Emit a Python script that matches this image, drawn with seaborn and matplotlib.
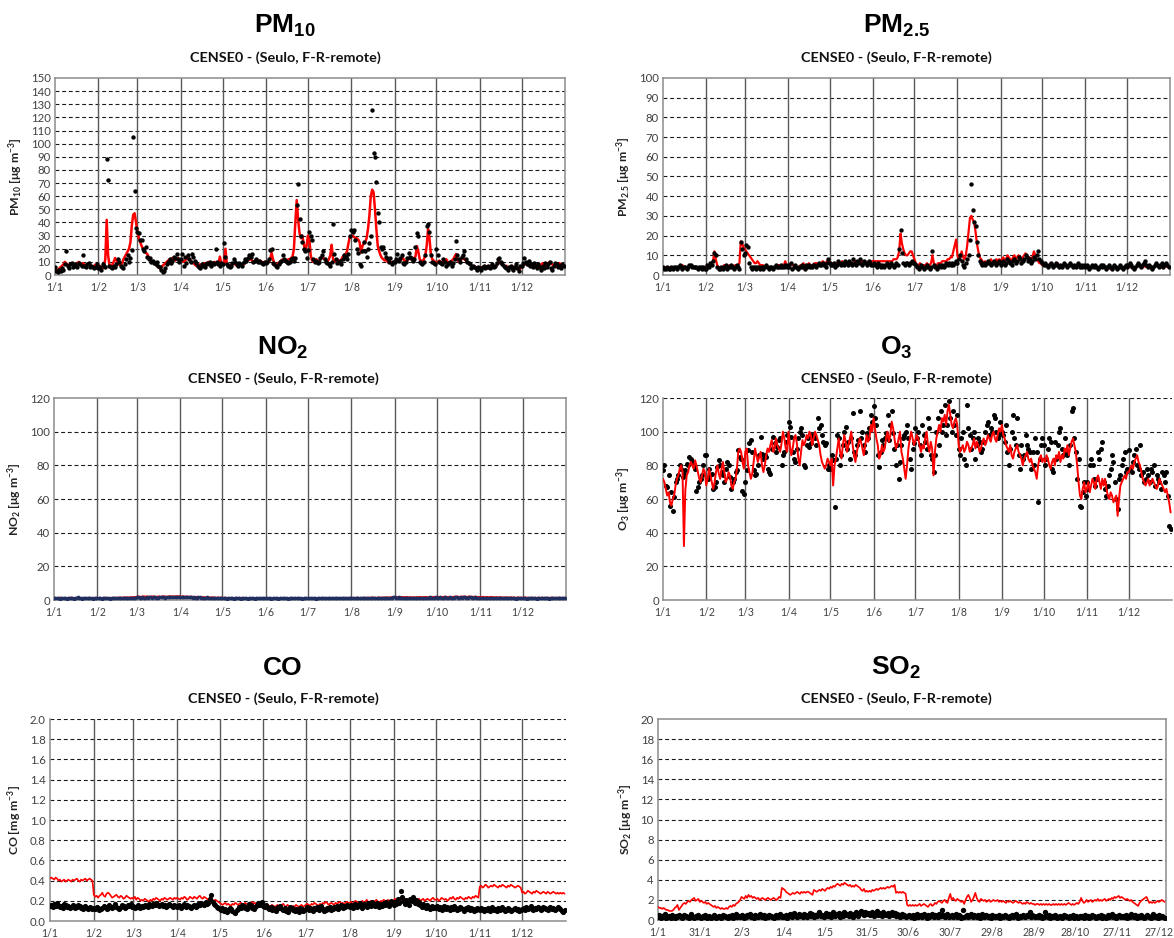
import matplotlib
matplotlib.use("Agg")
import matplotlib.pyplot as plt
import pandas as pd
import seaborn as sns

# ---------------------------------------------------------------- axes labels
MONTH_START = [0, 31, 59, 90, 120, 151, 181, 212, 243, 273, 304, 334]
MONTH_LABELS = ["1/1", "1/2", "1/3", "1/4", "1/5", "1/6", "1/7", "1/8",
                "1/9", "1/10", "1/11", "1/12"]
SO2_TICK_DAYS = [0, 30, 60, 90, 120, 150, 180, 210, 240, 270, 300, 330, 360]
SO2_TICK_LABELS = ["1/1", "31/1", "2/3", "1/4", "1/5", "31/5", "30/6", "30/7",
                   "29/8", "28/9", "28/10", "27/11", "27/12"]
STATION = "CENSE0 - (Seulo, F-R-remote)"

# ---------------------------------------------------------------- daily data, one list per month
PM10_OBS = [
    [6, 3, 2, 4, 3, 5, 4, 8, 18, 7, 5, 8, 9, 6, 8, 7, 6, 9, 8, 7, 15, 7, 6, 8, 9, 6, 7, 6, 5, 6, 8],
    [5, 6, 4, 8, 7, 6, 88, 72, 7, 6, 5, 7, 6, 8, 12, 10, 7, 6, 5, 8, 12, 15, 10, 13, 19, 105, 64, 36],
    [33, 32, 27, 27, 20, 18, 21, 14, 12, 13, 10, 11, 9, 8, 10, 7, 6, 4, 2, 3, 5, 8, 10, 12, 9, 11, 14, 13, 16, 12, 10],
    [12, 16, 7, 14, 9, 15, 12, 10, 16, 14, 11, 9, 7, 6, 5, 8, 7, 6, 8, 9, 8, 10, 7, 9, 8, 20, 10, 8, 7, 9],
    [8, 24, 14, 8, 7, 6, 7, 9, 12, 10, 8, 7, 9, 8, 7, 10, 12, 11, 13, 15, 14, 16, 10, 11, 12, 10, 11, 10, 9, 8, 10],
    [9, 10, 12, 19, 20, 9, 8, 7, 6, 8, 10, 11, 15, 12, 11, 10, 9, 10, 12, 13, 11, 13, 53, 69, 43, 30, 25, 20, 18, 13],
    [19, 33, 30, 27, 12, 10, 11, 9, 10, 13, 15, 18, 12, 10, 9, 8, 7, 10, 39, 16, 12, 9, 10, 11, 8, 12, 15, 14, 12, 16, 30],
    [34, 33, 34, 27, 20, 17, 8, 7, 18, 25, 18, 14, 20, 24, 30, 126, 93, 90, 71, 47, 40, 21, 20, 21, 17, 14, 12, 10, 13, 8, 10],
    [10, 12, 16, 11, 13, 15, 9, 8, 10, 13, 17, 14, 13, 11, 12, 21, 32, 30, 10, 9, 8, 10, 15, 37, 39, 33, 15, 10, 9, 8],
    [20, 15, 10, 9, 8, 12, 10, 7, 8, 9, 10, 7, 9, 12, 26, 15, 12, 10, 14, 15, 18, 12, 10, 9, 8, 5, 7, 6, 5, 4, 6],
    [5, 4, 6, 7, 5, 6, 7, 5, 6, 8, 6, 7, 9, 12, 13, 10, 8, 7, 6, 5, 4, 6, 7, 5, 4, 6, 8, 5, 3, 7],
    [7, 9, 13, 10, 8, 11, 7, 8, 6, 9, 7, 5, 8, 6, 4, 7, 5, 9, 6, 8, 10, 5, 4, 7, 9, 8, 6, 7, 5, 8, 7],
]
PM10_MOD = [
    [5, 4, 3, 5, 6, 7, 8, 10, 9, 8, 7, 8, 9, 8, 7, 8, 9, 10, 9, 8, 9, 8, 7, 8, 9, 8, 7, 6, 7, 8, 7],
    [6, 7, 6, 5, 7, 12, 42, 15, 7, 6, 8, 10, 13, 11, 9, 8, 7, 9, 12, 14, 16, 18, 20, 25, 38, 46, 47, 40],
    [33, 28, 25, 22, 20, 18, 17, 16, 14, 12, 11, 10, 9, 8, 7, 6, 5, 6, 7, 8, 9, 10, 11, 12, 12, 13, 12, 11, 12, 13, 12],
    [12, 11, 10, 11, 12, 13, 12, 11, 10, 9, 8, 7, 7, 8, 8, 7, 8, 9, 8, 9, 10, 9, 8, 9, 10, 9, 8, 9, 14, 9],
    [8, 9, 20, 8, 7, 7, 8, 8, 9, 8, 7, 8, 9, 8, 7, 8, 9, 10, 11, 12, 12, 11, 10, 11, 12, 11, 10, 11, 10, 9, 10],
    [10, 9, 10, 12, 17, 12, 9, 8, 8, 9, 10, 11, 12, 11, 12, 11, 12, 12, 13, 14, 20, 40, 57, 42, 32, 28, 30, 24, 18, 22],
    [30, 28, 15, 11, 10, 11, 12, 10, 11, 12, 14, 13, 12, 11, 10, 12, 15, 23, 12, 10, 11, 12, 11, 10, 12, 14, 15, 16, 18, 24, 29],
    [29, 30, 29, 28, 28, 27, 25, 17, 22, 24, 25, 28, 35, 45, 60, 65, 63, 50, 35, 22, 18, 15, 13, 12, 11, 12, 10, 11, 10, 9, 10],
    [10, 11, 12, 10, 11, 12, 13, 11, 10, 11, 12, 13, 12, 11, 13, 14, 22, 18, 12, 11, 10, 12, 15, 22, 35, 28, 16, 12, 11, 10],
    [9, 10, 11, 10, 9, 10, 11, 12, 10, 9, 10, 11, 12, 14, 16, 12, 10, 11, 12, 13, 12, 11, 10, 9, 8, 7, 6, 7, 6, 5, 6],
    [5, 6, 5, 6, 7, 6, 5, 6, 7, 8, 7, 6, 7, 9, 10, 9, 8, 7, 6, 7, 6, 5, 6, 7, 6, 5, 6, 5, 4, 5],
    [6, 7, 8, 9, 8, 7, 8, 7, 6, 7, 8, 7, 6, 7, 8, 9, 8, 7, 8, 9, 10, 9, 8, 7, 6, 7, 8, 9, 8, 7, 8],
]

PM25_OBS = [
    [4, 3, 3, 4, 3, 3, 4, 3, 4, 4, 3, 4, 5, 4, 3, 4, 4, 3, 4, 5, 5, 4, 4, 4, 4, 3, 4, 4, 3, 4, 3],
    [3, 5, 4, 6, 5, 7, 11, 10, 4, 3, 3, 4, 3, 4, 5, 3, 4, 4, 5, 4, 3, 4, 5, 4, 3, 17, 13, 10],
    [11, 15, 14, 6, 4, 3, 4, 4, 3, 4, 4, 3, 4, 3, 4, 5, 4, 3, 4, 4, 3, 4, 5, 4, 4, 4, 5, 4, 4, 5, 4],
    [5, 4, 6, 3, 4, 5, 4, 3, 4, 4, 5, 4, 3, 5, 4, 5, 4, 4, 5, 5, 4, 5, 6, 5, 5, 6, 5, 4, 6, 8],
    [6, 5, 5, 6, 4, 5, 7, 6, 5, 6, 5, 7, 6, 5, 7, 6, 5, 8, 6, 5, 7, 6, 8, 5, 6, 7, 6, 5, 7, 6, 5],
    [5, 6, 5, 4, 6, 5, 4, 5, 4, 5, 6, 5, 4, 6, 5, 4, 5, 6, 5, 13, 23, 11, 6, 5, 6, 6, 5, 6, 7, 6],
    [6, 5, 4, 3, 4, 5, 4, 3, 4, 5, 4, 3, 4, 12, 5, 4, 3, 4, 5, 4, 5, 4, 5, 6, 5, 6, 5, 6, 5, 6, 7],
    [6, 8, 10, 7, 5, 4, 6, 8, 10, 18, 46, 33, 27, 25, 17, 10, 7, 6, 5, 6, 5, 6, 7, 6, 5, 6, 7, 6, 5, 6, 7],
    [5, 6, 7, 5, 6, 8, 7, 6, 5, 7, 8, 6, 7, 9, 8, 6, 7, 8, 10, 9, 7, 8, 6, 7, 9, 8, 10, 12, 8, 7],
    [6, 5, 6, 5, 4, 5, 6, 5, 4, 5, 6, 5, 4, 5, 4, 5, 6, 5, 4, 5, 6, 5, 4, 5, 4, 5, 6, 4, 5, 4, 5],
    [4, 5, 4, 3, 4, 5, 4, 5, 4, 3, 4, 5, 4, 5, 4, 3, 4, 5, 4, 3, 4, 5, 4, 3, 4, 5, 4, 3, 4, 5],
    [4, 5, 6, 5, 4, 3, 4, 5, 6, 5, 4, 5, 6, 7, 5, 4, 5, 4, 3, 4, 5, 6, 5, 4, 5, 6, 4, 5, 6, 5, 4],
]
PM25_MOD = [
    [4, 4, 4, 4, 4, 4, 4, 4, 4, 4, 4, 4, 4, 5, 5, 4, 4, 4, 4, 4, 4, 4, 4, 4, 4, 4, 4, 4, 4, 4, 4],
    [4, 5, 5, 5, 6, 7, 12, 8, 5, 4, 4, 4, 4, 5, 5, 5, 4, 5, 5, 5, 4, 5, 5, 5, 6, 17, 16, 14],
    [13, 12, 11, 10, 9, 8, 7, 6, 6, 7, 6, 5, 5, 5, 4, 4, 4, 4, 4, 4, 4, 4, 4, 4, 5, 5, 4, 5, 5, 7, 5],
    [5, 5, 6, 5, 5, 5, 4, 4, 4, 5, 5, 6, 5, 5, 5, 6, 5, 5, 5, 6, 6, 6, 5, 6, 6, 7, 6, 6, 7, 7],
    [6, 6, 6, 5, 6, 6, 6, 6, 6, 7, 6, 6, 6, 5, 6, 6, 6, 6, 7, 7, 7, 6, 6, 7, 7, 7, 6, 6, 7, 7, 7],
    [7, 7, 7, 7, 7, 7, 7, 7, 7, 7, 7, 7, 7, 7, 7, 8, 8, 8, 9, 12, 21, 16, 13, 11, 10, 10, 11, 12, 12, 10],
    [8, 6, 5, 5, 6, 5, 5, 5, 5, 6, 5, 5, 6, 10, 6, 5, 5, 6, 6, 6, 7, 7, 7, 7, 8, 8, 9, 9, 12, 15, 18],
    [10, 8, 9, 12, 9, 8, 10, 15, 22, 29, 30, 28, 27, 22, 16, 12, 9, 8, 7, 6, 7, 6, 7, 7, 8, 7, 6, 7, 8, 7, 8],
    [7, 8, 9, 7, 8, 10, 9, 8, 7, 9, 10, 8, 9, 10, 9, 8, 9, 10, 11, 9, 8, 9, 8, 9, 12, 10, 8, 7, 6, 6],
    [5, 5, 6, 5, 5, 5, 6, 5, 5, 5, 5, 6, 5, 5, 5, 5, 5, 5, 5, 5, 5, 5, 5, 5, 4, 5, 5, 5, 4, 5, 4],
    [4, 4, 5, 4, 4, 4, 4, 5, 4, 4, 4, 4, 4, 5, 4, 4, 4, 4, 3, 4, 4, 4, 4, 4, 3, 4, 4, 4, 4, 4],
    [4, 4, 4, 5, 4, 4, 4, 4, 5, 5, 4, 4, 4, 5, 4, 4, 4, 4, 4, 4, 4, 5, 5, 4, 4, 4, 4, 5, 5, 4, 4],
]

NO2_OBS = [
    [1.4, 1.1, 0.9, 1.0, 0.8, 1.2, 1.0, 0.9, 1.1, 0.8, 0.9, 1.0, 1.2, 0.9, 0.8, 1.1, 1.0, 1.5, 1.1, 0.9, 0.8, 1.0, 1.1, 0.9, 1.0, 1.2, 0.9, 1.0, 0.8, 1.1, 0.9],
    [1.0, 0.9, 1.1, 0.8, 1.0, 1.2, 0.9, 1.0, 1.1, 0.8, 0.9, 1.0, 1.1, 0.9, 1.0, 1.2, 1.1, 0.9, 1.0, 1.1, 1.3, 1.2, 1.0, 1.1, 1.3, 1.2, 1.4, 1.3],
    [1.5, 1.6, 1.4, 1.3, 1.5, 1.2, 1.4, 1.6, 1.3, 1.5, 1.7, 1.4, 1.6, 1.5, 1.3, 1.4, 1.6, 1.5, 1.8, 1.6, 1.4, 1.5, 1.7, 1.6, 1.8, 1.9, 1.7, 1.6, 1.8, 2.0, 1.7],
    [1.8, 1.6, 1.7, 1.5, 1.6, 1.9, 1.7, 1.5, 1.6, 1.4, 1.5, 1.3, 1.4, 1.6, 1.5, 1.3, 1.2, 1.4, 1.3, 1.5, 1.2, 1.1, 1.3, 1.2, 1.0, 1.1, 1.2, 0.9, 1.0, 1.1],
    [1.0, 0.9, 1.1, 0.8, 1.0, 0.9, 1.1, 1.0, 0.8, 0.9, 1.0, 1.2, 0.9, 0.8, 1.0, 1.1, 0.9, 1.0, 0.8, 0.9, 1.1, 1.0, 0.9, 0.8, 1.0, 1.1, 0.9, 1.0, 1.2, 0.9, 1.0],
    [0.9, 1.0, 1.1, 0.9, 0.8, 1.0, 1.2, 0.9, 1.0, 0.8, 0.9, 1.1, 1.0, 0.9, 1.2, 1.0, 0.8, 0.9, 1.1, 1.0, 0.9, 1.3, 1.0, 0.9, 1.1, 1.0, 0.8, 0.9, 1.0, 1.1],
    [1.0, 0.9, 1.1, 1.2, 0.9, 1.0, 0.8, 1.1, 1.0, 0.9, 1.2, 1.0, 1.1, 0.9, 1.0, 1.3, 1.1, 1.0, 0.9, 1.1, 1.2, 1.0, 0.9, 1.1, 1.0, 1.2, 0.9, 1.0, 1.1, 1.0, 0.9],
    [1.1, 1.0, 1.2, 0.9, 1.0, 1.1, 1.3, 1.0, 0.9, 1.1, 1.2, 1.0, 1.1, 0.9, 1.0, 1.2, 1.1, 1.0, 0.9, 1.1, 1.3, 1.2, 1.0, 1.1, 1.2, 1.4, 1.1, 1.0, 1.2, 1.3, 1.5],
    [1.6, 1.4, 1.3, 1.5, 1.2, 1.4, 1.3, 1.1, 1.2, 1.4, 1.3, 1.2, 1.1, 1.3, 1.2, 1.0, 1.1, 1.3, 1.2, 1.4, 1.3, 1.1, 1.2, 1.4, 1.3, 1.5, 1.4, 1.2, 1.3, 1.5],
    [1.4, 1.3, 1.5, 1.2, 1.4, 1.3, 1.6, 1.4, 1.3, 1.5, 1.4, 1.2, 1.3, 1.5, 1.6, 1.4, 1.3, 1.5, 1.4, 1.6, 1.5, 1.3, 1.4, 1.6, 1.5, 1.4, 1.3, 1.5, 1.4, 1.3, 1.2],
    [1.3, 1.2, 1.4, 1.1, 1.3, 1.2, 1.0, 1.1, 1.3, 1.2, 1.1, 1.0, 1.2, 1.1, 1.3, 1.0, 0.9, 1.1, 1.0, 1.2, 0.9, 1.0, 1.1, 0.9, 1.0, 0.8, 1.0, 0.9, 1.1, 1.0],
    [0.9, 1.0, 1.1, 0.8, 1.0, 0.9, 1.1, 1.2, 0.9, 1.0, 0.8, 1.1, 1.0, 0.9, 1.2, 1.0, 0.9, 1.1, 1.0, 0.8, 1.0, 1.2, 0.9, 1.1, 1.0, 0.9, 1.3, 1.0, 1.1, 1.2, 1.4],
]
NO2_MOD = [
    [1.3, 1.4, 1.2, 1.3, 1.5, 1.4, 1.3, 1.2, 1.4, 1.3, 1.2, 1.3, 1.5, 1.4, 1.3, 1.2, 1.3, 1.6, 1.4, 1.3, 1.2, 1.3, 1.4, 1.3, 1.2, 1.4, 1.3, 1.2, 1.3, 1.4, 1.3],
    [1.2, 1.3, 1.4, 1.2, 1.3, 1.5, 1.3, 1.4, 1.2, 1.3, 1.4, 1.3, 1.5, 1.4, 1.3, 1.5, 1.6, 1.4, 1.5, 1.6, 1.7, 1.6, 1.5, 1.7, 1.8, 1.7, 1.9, 1.8],
    [2.0, 2.2, 2.1, 1.9, 2.1, 2.3, 2.0, 2.2, 2.1, 2.0, 2.2, 2.1, 2.3, 2.0, 1.9, 2.1, 2.2, 2.0, 2.1, 2.3, 2.2, 2.0, 2.1, 2.2, 2.4, 2.2, 2.1, 2.3, 2.2, 2.4, 2.3],
    [2.2, 2.1, 2.3, 2.0, 2.1, 2.2, 2.0, 1.9, 2.1, 2.0, 1.8, 1.9, 2.0, 1.8, 1.7, 1.9, 1.8, 1.7, 1.6, 1.8, 1.7, 1.6, 1.5, 1.7, 1.6, 1.5, 1.4, 1.6, 1.5, 1.4],
    [1.4, 1.3, 1.5, 1.3, 1.4, 1.2, 1.3, 1.4, 1.2, 1.3, 1.4, 1.3, 1.2, 1.3, 1.4, 1.2, 1.3, 1.1, 1.2, 1.3, 1.2, 1.1, 1.3, 1.2, 1.1, 1.2, 1.3, 1.2, 1.1, 1.2, 1.3],
    [1.2, 1.1, 1.3, 1.2, 1.1, 1.2, 1.3, 1.1, 1.2, 1.0, 1.1, 1.2, 1.3, 1.1, 1.2, 1.1, 1.0, 1.2, 1.1, 1.3, 1.2, 1.1, 1.2, 1.0, 1.1, 1.2, 1.1, 1.0, 1.2, 1.1],
    [1.2, 1.1, 1.3, 1.2, 1.1, 1.2, 1.3, 1.2, 1.1, 1.3, 1.2, 1.4, 1.2, 1.1, 1.3, 1.2, 1.1, 1.2, 1.3, 1.2, 1.4, 1.3, 1.2, 1.1, 1.3, 1.2, 1.4, 1.3, 1.2, 1.3, 1.4],
    [1.3, 1.4, 1.2, 1.3, 1.5, 1.4, 1.3, 1.2, 1.4, 1.5, 1.3, 1.4, 1.5, 1.3, 1.4, 1.6, 1.5, 1.4, 1.3, 1.5, 1.6, 1.4, 1.5, 1.6, 1.5, 1.7, 1.6, 1.5, 1.7, 1.8, 1.9],
    [2.0, 1.9, 1.8, 2.0, 1.7, 1.9, 1.8, 1.7, 1.9, 1.8, 1.7, 1.8, 1.6, 1.8, 1.7, 1.6, 1.8, 1.7, 1.9, 1.8, 1.7, 1.8, 1.9, 1.7, 1.8, 2.0, 1.9, 1.8, 1.9, 2.0],
    [1.9, 1.8, 2.0, 1.9, 1.8, 2.0, 2.1, 1.9, 1.8, 2.0, 1.9, 1.8, 2.0, 2.1, 2.2, 2.0, 1.9, 2.1, 2.0, 2.2, 2.1, 1.9, 2.0, 2.2, 2.1, 2.0, 1.9, 2.1, 2.0, 1.9, 1.8],
    [1.9, 1.8, 2.0, 1.7, 1.8, 1.9, 1.7, 1.8, 1.9, 1.7, 1.6, 1.8, 1.7, 1.6, 1.8, 1.7, 1.5, 1.6, 1.7, 1.6, 1.5, 1.6, 1.7, 1.5, 1.6, 1.4, 1.5, 1.6, 1.5, 1.4],
    [1.5, 1.4, 1.6, 1.4, 1.5, 1.3, 1.4, 1.5, 1.3, 1.4, 1.3, 1.5, 1.4, 1.3, 1.5, 1.4, 1.3, 1.4, 1.5, 1.3, 1.4, 1.5, 1.3, 1.4, 1.3, 1.4, 1.5, 1.4, 1.3, 1.4, 1.5],
]

O3_OBS = [
    [77, 80, 68, 67, 74, 56, 64, 53, 61, 70, 72, 74, 80, 78, 73, 75, 77, 81, 80, 85, 84, 82, 80, 78, 65, 67, 70, 72, 74, 80, 86],
    [86, 72, 78, 74, 75, 66, 67, 70, 79, 83, 80, 76, 74, 70, 78, 82, 80, 73, 66, 70, 72, 76, 77, 89, 85, 84, 65, 63],
    [70, 77, 89, 93, 95, 88, 77, 74, 75, 80, 86, 97, 87, 84, 86, 85, 78, 76, 75, 90, 97, 93, 88, 91, 95, 96, 80, 86, 88, 94, 98],
    [106, 103, 97, 88, 84, 82, 90, 96, 100, 102, 98, 80, 79, 92, 96, 91, 93, 98, 97, 96, 92, 108, 102, 104, 98, 94, 92, 93, 78, 80],
    [78, 86, 83, 55, 84, 98, 96, 80, 86, 92, 100, 103, 90, 94, 84, 96, 111, 88, 86, 92, 95, 112, 96, 100, 92, 88, 99, 96, 102, 110, 106],
    [115, 108, 104, 86, 79, 88, 95, 92, 96, 99, 110, 95, 104, 112, 99, 90, 80, 92, 72, 82, 92, 96, 98, 100, 104, 96, 84, 78, 90, 93],
    [102, 96, 100, 92, 86, 104, 98, 94, 90, 108, 102, 86, 84, 76, 86, 100, 108, 92, 112, 100, 104, 116, 98, 104, 118, 108, 100, 112, 104, 98, 110],
    [90, 86, 96, 100, 84, 80, 116, 102, 98, 90, 96, 100, 84, 92, 96, 94, 88, 90, 94, 100, 104, 106, 98, 102, 100, 110, 108, 100, 96, 98, 106],
    [100, 98, 94, 104, 88, 80, 90, 100, 110, 96, 92, 108, 86, 78, 92, 84, 86, 98, 92, 90, 88, 78, 88, 80, 96, 88, 58, 84, 92, 96],
    [92, 80, 84, 90, 96, 94, 78, 76, 94, 84, 92, 100, 102, 90, 86, 96, 88, 86, 80, 92, 112, 114, 96, 88, 72, 84, 56, 55, 64, 70, 62],
    [70, 66, 80, 84, 80, 72, 68, 72, 88, 84, 90, 94, 70, 66, 62, 68, 74, 78, 86, 82, 70, 60, 54, 72, 74, 80, 84, 88, 76, 78],
    [89, 78, 76, 82, 86, 90, 80, 78, 92, 74, 76, 70, 72, 78, 74, 70, 78, 76, 80, 68, 74, 72, 70, 66, 76, 74, 70, 76, 62, 44, 42],
]
O3_MOD = [
    [72, 70, 66, 62, 64, 58, 56, 60, 62, 68, 72, 74, 78, 80, 76, 32, 65, 74, 76, 80, 82, 80, 78, 83, 80, 76, 72, 70, 74, 78, 76],
    [68, 72, 78, 74, 70, 66, 70, 76, 80, 75, 72, 78, 82, 76, 70, 72, 76, 74, 68, 66, 70, 72, 78, 88, 90, 88, 82, 78],
    [88, 90, 80, 76, 72, 75, 82, 90, 86, 82, 85, 88, 80, 76, 80, 86, 90, 88, 92, 95, 88, 90, 96, 92, 90, 88, 93, 100, 96, 90, 88],
    [100, 92, 86, 90, 96, 98, 93, 84, 80, 88, 95, 92, 94, 98, 96, 100, 98, 92, 96, 100, 98, 95, 92, 86, 82, 80, 78, 80, 84, 82],
    [80, 84, 68, 80, 84, 90, 96, 88, 84, 92, 98, 94, 88, 92, 96, 100, 92, 86, 82, 88, 92, 96, 94, 90, 86, 92, 98, 94, 96, 104, 100],
    [108, 102, 96, 92, 84, 86, 92, 88, 90, 96, 100, 94, 98, 106, 102, 96, 90, 92, 96, 100, 88, 84, 78, 72, 80, 90, 96, 100, 96, 92],
    [95, 98, 96, 92, 88, 92, 90, 96, 100, 92, 88, 94, 90, 74, 88, 96, 100, 104, 100, 108, 106, 110, 104, 112, 116, 110, 104, 102, 106, 108, 104],
    [92, 88, 90, 92, 88, 90, 94, 92, 88, 90, 92, 96, 90, 94, 92, 88, 90, 94, 96, 92, 94, 98, 96, 94, 98, 100, 96, 94, 98, 102, 100],
    [104, 98, 96, 92, 90, 88, 92, 86, 84, 88, 90, 92, 88, 86, 84, 80, 84, 86, 88, 84, 82, 84, 80, 78, 76, 72, 80, 84, 86, 82],
    [84, 82, 86, 84, 80, 78, 82, 84, 80, 86, 84, 88, 82, 86, 84, 90, 88, 92, 86, 90, 94, 96, 92, 88, 80, 70, 62, 60, 66, 70, 64],
    [66, 70, 64, 68, 72, 70, 66, 72, 74, 70, 66, 72, 68, 72, 66, 62, 60, 64, 62, 58, 60, 62, 50, 60, 68, 70, 72, 74, 72, 76],
    [76, 78, 80, 78, 82, 84, 86, 82, 80, 76, 72, 70, 68, 70, 72, 68, 70, 72, 70, 68, 66, 68, 72, 70, 68, 66, 64, 66, 62, 58, 52],
]

CO_OBS = [
    [.15, .16, .14, .17, .15, .18, .16, .14, .15, .13, .17, .16, .14, .15, .13, .14, .16, .15, .13, .14, .16, .15, .13, .12, .14, .15, .13, .12, .14, .13, .12],
    [.13, .12, .14, .13, .11, .12, .13, .15, .14, .12, .13, .16, .14, .13, .15, .17, .14, .13, .12, .14, .16, .15, .13, .14, .16, .15, .17, .14],
    [.15, .13, .14, .16, .14, .13, .15, .14, .16, .15, .14, .17, .16, .15, .17, .16, .18, .17, .15, .16, .17, .15, .16, .14, .15, .17, .16, .15, .14, .16, .15],
    [.14, .16, .15, .13, .15, .17, .14, .16, .15, .14, .13, .15, .16, .14, .15, .17, .16, .18, .17, .16, .19, .17, .18, .22, .26, .19, .17, .16, .14, .13],
    [.12, .11, .13, .10, .12, .09, .11, .13, .12, .10, .09, .08, .11, .12, .14, .13, .16, .15, .13, .12, .14, .17, .16, .13, .12, .14, .15, .18, .16, .17, .19],
    [.15, .14, .16, .13, .12, .14, .11, .13, .12, .10, .14, .13, .15, .12, .11, .13, .10, .09, .12, .14, .13, .11, .10, .12, .11, .09, .13, .12, .10, .11],
    [.12, .14, .11, .13, .12, .10, .13, .12, .14, .11, .13, .15, .12, .10, .11, .13, .12, .14, .11, .12, .14, .13, .15, .12, .14, .16, .13, .15, .14, .16, .15],
    [.14, .16, .13, .15, .17, .14, .16, .18, .15, .13, .17, .16, .14, .18, .16, .15, .19, .17, .15, .18, .16, .14, .17, .15, .18, .16, .19, .17, .15, .20, .18],
    [.16, .19, .17, .22, .18, .30, .24, .20, .17, .21, .19, .16, .22, .20, .24, .18, .21, .17, .19, .16, .14, .17, .15, .13, .16, .14, .12, .15, .13, .14],
    [.13, .15, .12, .14, .11, .13, .15, .12, .14, .13, .11, .14, .12, .15, .13, .11, .12, .14, .13, .12, .10, .13, .12, .14, .11, .13, .12, .10, .11, .13, .12],
    [.11, .13, .12, .10, .12, .11, .13, .10, .12, .14, .11, .12, .10, .13, .11, .12, .14, .12, .10, .11, .13, .12, .10, .11, .12, .13, .11, .12, .10, .11],
    [.12, .13, .11, .14, .12, .13, .15, .12, .11, .13, .12, .14, .13, .11, .12, .14, .13, .12, .11, .13, .14, .12, .13, .11, .12, .14, .13, .12, .10, .09, .11],
]
CO_MOD = [
    [.42, .43, .42, .41, .43, .42, .40, .41, .39, .40, .41, .39, .40, .41, .40, .39, .41, .40, .41, .42, .40, .39, .41, .40, .41, .42, .40, .41, .42, .41, .40],
    [.26, .24, .25, .23, .25, .26, .28, .25, .24, .27, .28, .27, .25, .23, .24, .25, .26, .24, .23, .25, .24, .22, .23, .25, .24, .23, .22, .23],
    [.22, .24, .21, .23, .22, .20, .21, .20, .22, .21, .20, .19, .21, .20, .22, .21, .23, .22, .21, .20, .22, .21, .23, .22, .21, .22, .23, .22, .21, .23, .22],
    [.23, .22, .21, .23, .22, .24, .23, .21, .22, .24, .23, .22, .24, .23, .22, .24, .25, .23, .22, .24, .23, .22, .21, .23, .22, .21, .20, .21, .20, .19],
    [.18, .17, .16, .17, .18, .16, .17, .16, .15, .17, .16, .18, .17, .16, .17, .18, .17, .16, .18, .17, .16, .17, .18, .19, .17, .18, .16, .17, .16, .15, .16],
    [.16, .15, .17, .16, .15, .14, .16, .15, .14, .15, .16, .14, .15, .16, .17, .15, .14, .16, .15, .14, .13, .15, .14, .16, .15, .14, .15, .16, .14, .15],
    [.16, .17, .16, .15, .17, .16, .18, .17, .16, .15, .17, .16, .18, .17, .19, .18, .16, .17, .18, .17, .16, .18, .17, .18, .19, .17, .18, .17, .18, .19, .18],
    [.18, .19, .17, .18, .20, .19, .18, .17, .19, .20, .18, .19, .21, .19, .18, .20, .19, .18, .20, .21, .19, .18, .20, .19, .21, .20, .19, .21, .20, .19, .20],
    [.20, .22, .21, .20, .19, .23, .21, .20, .22, .21, .20, .19, .21, .20, .22, .21, .20, .21, .22, .20, .21, .22, .20, .21, .22, .21, .20, .22, .23, .21],
    [.21, .22, .20, .21, .23, .22, .21, .22, .20, .21, .23, .22, .24, .22, .21, .23, .22, .24, .23, .22, .21, .23, .22, .24, .23, .22, .24, .23, .25, .24, .23],
    [.34, .35, .33, .34, .36, .35, .33, .34, .35, .34, .36, .35, .34, .33, .35, .34, .36, .35, .34, .33, .35, .34, .36, .35, .34, .33, .34, .35, .34, .33],
    [.28, .29, .27, .28, .30, .29, .28, .27, .29, .28, .30, .29, .28, .27, .28, .29, .28, .27, .29, .28, .27, .28, .29, .28, .27, .28, .27, .28, .27, .28, .27],
]

SO2_OBS = [
    [.3, .5, .2, .4, .3, .6, .2, .3, .4, .2, .5, .3, .2, .4, .3, .5, .4, .2, .3, .5, .4, .3, .2, .4, .6, .3, .2, .4, .3, .5, .3],
    [.2, .4, .3, .5, .2, .3, .4, .2, .3, .5, .4, .2, .3, .4, .2, .3, .5, .4, .3, .2, .4, .3, .5, .2, .4, .6, .3, .4],
    [.3, .5, .4, .2, .3, .5, .4, .6, .3, .4, .2, .5, .4, .3, .6, .4, .3, .5, .2, .4, .3, .5, .4, .3, .2, .4, .5, .3, .4, .6, .3],
    [.4, .3, .5, .2, .4, .6, .3, .5, .7, .4, .3, .6, .4, .5, .3, .6, .4, .3, .5, .7, .4, .6, .3, .5, .4, .6, .8, .4, .5, .3],
    [.5, .7, .4, .6, .3, .5, .8, .4, .6, .5, .7, .3, .6, .4, .8, .5, .6, .4, .7, .5, .3, .6, .8, .5, .4, .7, .9, .6, .5, .8, .6],
    [.7, .5, .6, .8, .4, .6, .9, .5, .7, .6, .4, .8, .6, .5, .7, .4, .6, .8, .5, .7, .4, .6, .5, .3, .6, .4, .5, .3, .4, .5],
    [.4, .3, .5, .2, .4, .6, .3, .4, .5, .3, .6, .4, .2, .5, .3, .4, .6, .3, .5, .4, .3, .6, .4, 1.0, .5, .3, .4, .6, .3, .4, .5],
    [.3, .4, .6, .3, .5, .4, .2, 1.0, .3, .4, .5, .3, .4, .6, .3, .5, .4, .3, .5, .2, .4, .6, .3, .4, .5, .3, .4, .2, .5, .4, .3],
    [.4, .3, .5, .2, .4, .3, .5, .4, .3, .2, .4, .5, .3, .4, .6, .3, .2, .4, .3, .5, .4, .3, .5, .4, .8, .3, .5, .4, .3, .4],
    [.3, .5, .4, .2, .3, .8, .4, .3, .5, .2, .4, .3, .5, .4, .2, .3, .4, .2, .3, .5, .4, .3, .2, .4, .3, .5, .2, .4, .3, .2, .4],
    [.3, .4, .2, .5, .3, .4, .2, .3, .5, .4, .3, .2, .4, .3, .5, .2, .4, .3, .2, .5, .3, .4, .6, .3, .4, .2, .3, .5, .4, .3],
    [.4, .3, .5, .2, .4, .3, .6, .4, .3, .5, .2, .4, .3, .5, .4, .2, .3, .5, .4, .3, .2, .4, .6, .3, .4, .2, .5, .3, .4, .3, .2],
]
SO2_MOD = [
    [1.3, 1.2, 1.2, 1.1, 1.2, 1.1, 1.0, 1.0, 0.9, 0.9, 0.9, 1.0, 1.2, 1.3, 1.5, 1.0, 1.2, 1.4, 1.6, 1.7, 1.6, 1.8, 1.9, 1.8, 2.0, 2.1, 2.2, 1.9, 2.0, 2.1, 1.8],
    [1.9, 1.8, 1.7, 1.8, 1.6, 1.7, 1.6, 1.5, 1.4, 1.3, 1.4, 1.2, 1.3, 1.2, 1.1, 1.2, 1.1, 1.1, 1.2, 1.1, 1.3, 1.4, 1.3, 1.5, 1.4, 1.6, 1.7, 1.8],
    [2.0, 2.3, 2.2, 2.1, 2.4, 2.2, 2.5, 2.3, 2.4, 2.2, 2.3, 2.2, 2.1, 2.2, 2.0, 2.1, 2.2, 2.1, 2.0, 2.1, 2.2, 2.1, 2.0, 2.1, 2.2, 2.1, 2.0, 2.1, 2.3, 2.2, 3.2],
    [3.1, 3.0, 2.8, 2.7, 2.6, 2.5, 2.6, 2.7, 2.6, 2.7, 2.8, 2.7, 2.6, 2.8, 2.7, 2.8, 2.7, 2.8, 2.8, 2.7, 2.6, 2.5, 3.0, 2.9, 2.8, 2.9, 3.0, 2.9, 3.1, 3.0],
    [2.9, 3.1, 3.2, 3.1, 3.3, 3.2, 3.4, 3.3, 3.5, 3.6, 3.5, 3.4, 3.6, 3.5, 3.7, 3.6, 3.5, 3.4, 3.5, 3.3, 3.4, 3.3, 3.5, 3.4, 3.3, 3.2, 3.0, 2.9, 3.1, 2.8, 2.9],
    [2.8, 2.9, 2.8, 3.0, 2.9, 3.0, 3.1, 3.0, 3.1, 3.2, 3.1, 3.2, 3.1, 3.2, 3.3, 3.2, 3.3, 3.4, 3.3, 3.5, 2.7, 2.8, 2.7, 2.8, 2.7, 2.8, 2.7, 2.6, 1.5, 1.4],
    [1.5, 1.4, 1.5, 1.4, 1.5, 1.4, 1.5, 1.6, 1.4, 1.5, 1.6, 1.5, 1.4, 1.3, 1.5, 1.6, 1.4, 1.5, 1.7, 1.6, 1.8, 1.9, 1.8, 1.7, 1.9, 2.0, 1.8, 1.7, 2.2, 2.6, 2.0],
    [2.2, 2.0, 1.9, 2.1, 2.0, 1.9, 1.8, 1.9, 1.6, 2.0, 2.3, 2.5, 2.2, 1.8, 2.0, 2.3, 2.7, 2.2, 1.9, 1.8, 2.1, 2.0, 1.9, 2.0, 1.8, 1.9, 2.0, 1.8, 1.9, 2.0, 1.9],
    [1.9, 2.0, 1.8, 1.9, 1.8, 1.9, 1.8, 1.7, 1.9, 1.8, 1.9, 1.8, 1.7, 1.8, 1.9, 1.8, 1.7, 1.8, 1.7, 1.6, 1.7, 1.6, 1.8, 1.7, 1.6, 1.7, 1.6, 1.6, 1.5, 1.6],
    [1.6, 1.5, 1.6, 1.5, 1.6, 1.5, 1.6, 1.5, 1.6, 1.5, 1.5, 1.6, 1.5, 1.6, 1.5, 1.6, 1.5, 1.6, 1.5, 1.6, 1.5, 1.6, 1.7, 1.6, 1.5, 1.6, 1.5, 1.6, 1.7, 1.6, 1.8],
    [2.2, 1.9, 1.7, 1.8, 2.0, 1.8, 1.9, 2.0, 1.8, 1.9, 2.0, 1.9, 2.1, 1.9, 2.0, 1.9, 2.0, 2.1, 1.9, 2.0, 2.1, 2.0, 2.2, 2.1, 2.3, 2.2, 2.3, 2.4, 2.2, 2.3],
    [2.2, 2.1, 2.0, 2.1, 2.0, 1.9, 2.0, 1.8, 1.7, 1.6, 1.5, 1.4, 1.7, 1.9, 2.0, 2.1, 2.2, 2.3, 2.0, 1.7, 1.8, 1.7, 1.8, 1.7, 1.8, 1.9, 1.8, 1.9, 2.0, 1.9, 1.8],
]

# ---------------------------------------------------------------- style
sns.set_theme(style="white")
plt.rcParams["font.family"] = ["Lato", "DejaVu Sans"]
plt.rcParams["mathtext.default"] = "regular"

RED = "#FF0000"
GRID = "#1a1a1a"
FRAME = "#8c8c8c"
MONTH_LINE = "#5a5a5a"
TICK_COLOR = "#404040"
FIG_W, FIG_H = 1174, 938


def daily_frame(monthly):
    """Flatten month lists into (day-of-year, value) rows."""
    days, vals = [], []
    for start, month in zip(MONTH_START, monthly):
        for i, v in enumerate(month):
            days.append(start + i)
            vals.append(v)
    return pd.DataFrame({"day": days, "value": vals})


def px_axes(fig, left, top, right, bottom):
    return fig.add_axes([left / FIG_W, 1 - bottom / FIG_H,
                         (right - left) / FIG_W, (bottom - top) / FIG_H])


def panel(ax, obs, mod, ymax, ystep, ylabel, fmt="{:.0f}", top_dashed=False,
          month_lines=True, obs_color="black", obs_size=11, line_w=1.6,
          line_on_top=False, so2_ticks=False):
    obs_df = daily_frame(obs)
    mod_df = daily_frame(mod)
    z_line, z_obs = (4, 3) if line_on_top else (3, 4)
    sns.lineplot(data=mod_df, x="day", y="value", ax=ax, color=RED,
                 linewidth=line_w, errorbar=None, zorder=z_line)
    sns.scatterplot(data=obs_df, x="day", y="value", ax=ax, color=obs_color,
                    s=obs_size, linewidth=0, zorder=z_obs)

    ax.set_xlim(0, 365)
    ax.set_ylim(0, ymax)
    n = int(round(ymax / ystep))
    yt = [ystep * k for k in range(n + 1)]
    ax.set_yticks(yt)
    ax.set_yticklabels([fmt.format(v) for v in yt])
    for v in yt[1:-1] + ([yt[-1]] if top_dashed else []):
        ax.axhline(v, color=GRID, lw=0.8, ls=(0, (3.5, 2.5)), zorder=1)
    if month_lines:
        for d in MONTH_START[1:]:
            ax.axvline(d, color=MONTH_LINE, lw=1.0, zorder=1)
    if so2_ticks:
        ax.set_xticks(SO2_TICK_DAYS)
        ax.set_xticklabels(SO2_TICK_LABELS)
    else:
        ax.set_xticks(MONTH_START)
        ax.set_xticklabels(MONTH_LABELS)

    ax.tick_params(axis="both", length=0, colors=TICK_COLOR)
    ax.tick_params(axis="x", pad=5, labelsize=7.6)
    ax.tick_params(axis="y", pad=3, labelsize=8.2)
    ax.set_xlabel("")
    ax.set_ylabel(ylabel, fontsize=8.8, fontweight="bold", color="#222222",
                  labelpad=4)
    for side in ("left", "bottom", "right"):
        ax.spines[side].set_color(FRAME)
        ax.spines[side].set_linewidth(1.1)
    ax.spines["top"].set_visible(not top_dashed)
    ax.spines["top"].set_color(FRAME)
    ax.spines["top"].set_linewidth(1.1)
    ax.grid(False)


def titles(fig, xc, y_title, y_sub, text):
    fig.text(xc / FIG_W, 1 - y_title / FIG_H, text, ha="center",
             va="baseline", fontsize=19, fontweight="bold",
             family="Liberation Sans", color="black")
    fig.text(xc / FIG_W, 1 - y_sub / FIG_H, STATION, ha="center",
             va="baseline", fontsize=10.4, fontweight="bold", color="#111111")


fig = plt.figure(figsize=(FIG_W / 100, FIG_H / 100), dpi=100)
fig.patch.set_facecolor("white")

ax_pm10 = px_axes(fig, 55, 78, 565, 275)
panel(ax_pm10, PM10_OBS, PM10_MOD, 150, 10, r"PM$_{10}$ [$\mu$g m$^{-3}$]",
      obs_size=10, line_w=1.8)
titles(fig, 285, 33, 62, r"PM$_{10}$")

ax_pm25 = px_axes(fig, 663, 78, 1170, 275)
panel(ax_pm25, PM25_OBS, PM25_MOD, 100, 10, r"PM$_{2.5}$ [$\mu$g m$^{-3}$]",
      obs_size=10, line_w=1.6)
titles(fig, 896, 33, 62, r"PM$_{2.5}$")

ax_no2 = px_axes(fig, 54, 398, 566, 600)
panel(ax_no2, NO2_OBS, NO2_MOD, 120, 20, r"NO$_2$ [$\mu$g m$^{-3}$]",
      obs_color="#1F2F5F", obs_size=7, line_w=1.2)
titles(fig, 283, 355, 383, r"NO$_2$")

ax_o3 = px_axes(fig, 663, 398, 1172, 600)
panel(ax_o3, O3_OBS, O3_MOD, 120, 20, r"O$_3$ [$\mu$g m$^{-3}$]",
      top_dashed=True, obs_size=13, line_w=1.4, line_on_top=True)
ax_o3.spines["right"].set_visible(False)
titles(fig, 896, 355, 383, r"O$_3$")

ax_co = px_axes(fig, 50, 719, 566, 921)
panel(ax_co, CO_OBS, CO_MOD, 2.0, 0.2, r"CO [mg m$^{-3}$]", fmt="{:.1f}",
      top_dashed=True, obs_size=14, line_w=1.2)
ax_co.spines["right"].set_visible(False)
titles(fig, 283, 675, 703, "CO")

ax_so2 = px_axes(fig, 658, 719, 1166, 920)
panel(ax_so2, SO2_OBS, SO2_MOD, 20, 2, r"SO$_2$ [$\mu$g m$^{-3}$]",
      month_lines=False, obs_size=15, line_w=1.2, so2_ticks=True)
titles(fig, 896, 675, 703, r"SO$_2$")

fig.savefig("out.png", dpi=100, facecolor="white")
